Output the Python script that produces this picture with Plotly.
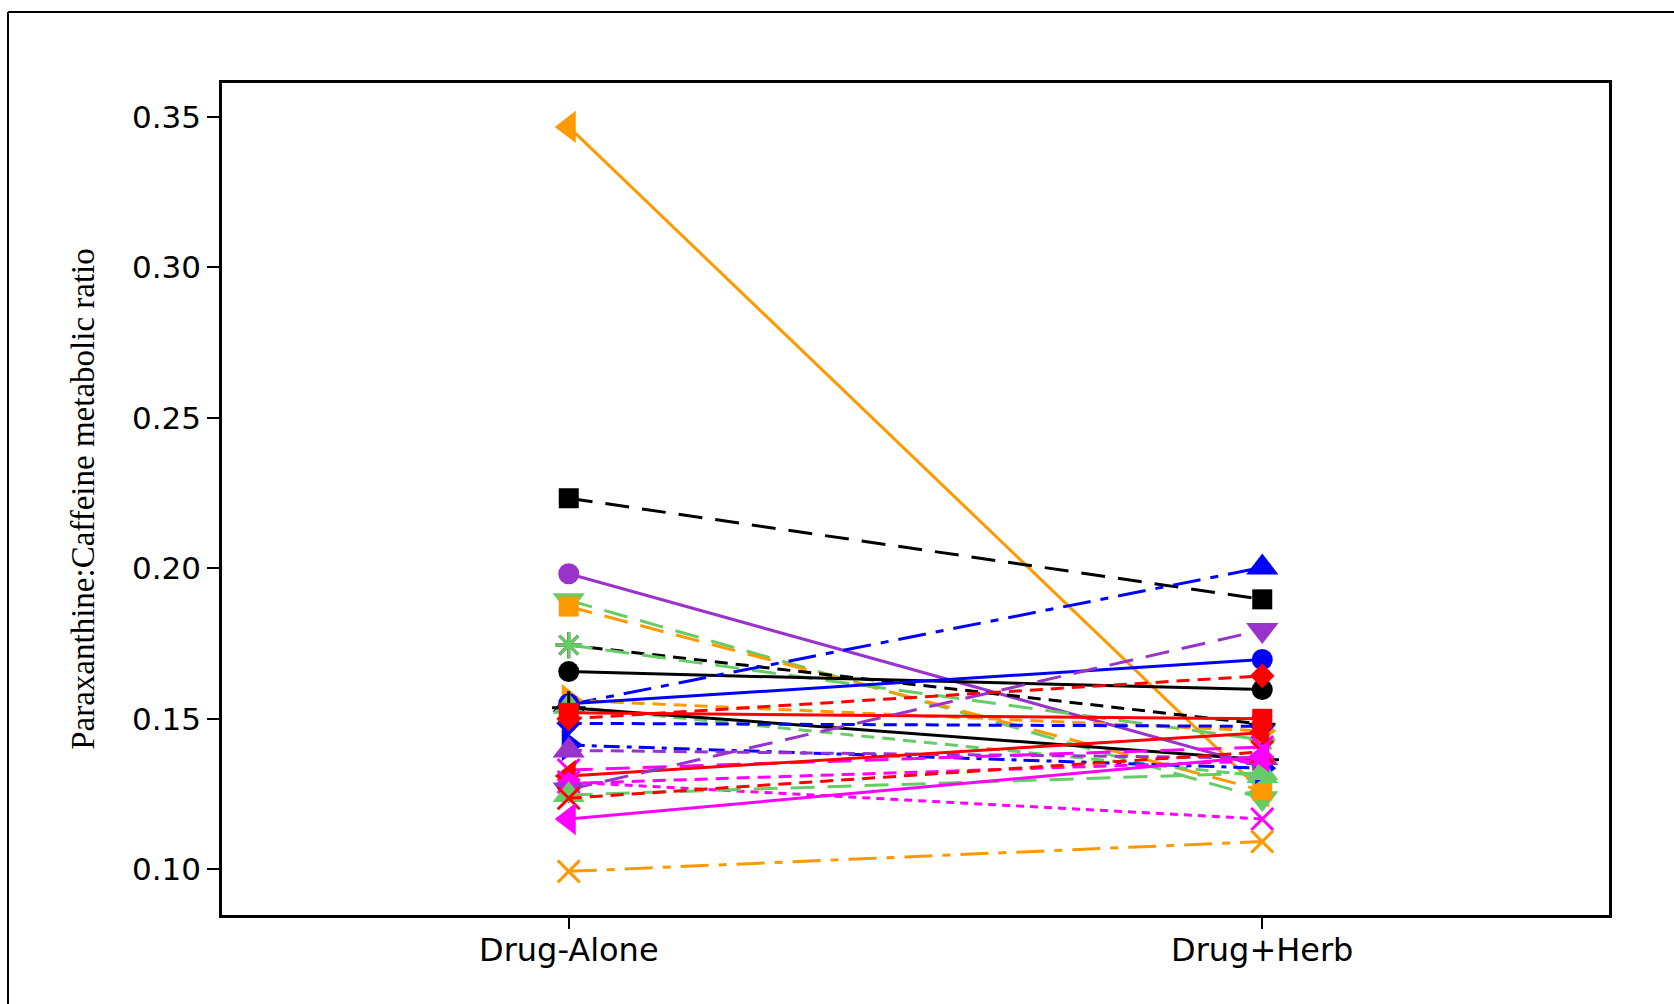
import plotly.graph_objects as go

categories = ["Drug-Alone", "Drug+Herb"]

series_colors = [
    "#FF9900", "#000000", "#9933CC", "#66CC66", "#FF9900", "#000000",
    "#66CC66", "#000000", "#0000FF", "#FF9900", "#0000FF", "#66CC66",
    "#000000", "#0000FF", "#FF0000", "#FF0000", "#0000FF", "#9933CC",
    "#FF00FF", "#FF0000", "#FF00FF", "#9933CC", "#FF00FF", "#66CC66",
    "#FF0000", "#FF00FF", "#FF9900",
]
series_dash = [
    "solid", "longdash", "solid", "longdash", "longdash", "dash",
    "longdash", "solid", "longdashdot", "dash", "solid", "dash",
    "solid", "dash", "solid", "dash", "dashdot", "dash",
    "longdash", "solid", "dash", "longdash", "dot", "longdash",
    "dash", "solid", "longdashdot",
]
series_symbols = [
    "triangle-left", "square", "circle", "triangle-down", "square", "asterisk-open",
    "asterisk-open", "circle", "triangle-up", "triangle-right", "circle", "triangle-up",
    "cross-thin-open", "diamond", "square", "diamond", "triangle-right", "triangle-up",
    "x-thin-open", "triangle-left", "diamond", "triangle-down", "x-thin-open", "triangle-up",
    "x-thin-open", "triangle-left", "x-thin-open",
]
drug_alone = [
    0.3467, 0.2233, 0.1982, 0.1894, 0.1873, 0.1745,
    0.1745, 0.1657, 0.1547, 0.1562, 0.1550, 0.1540,
    0.1537, 0.1485, 0.1520, 0.1500, 0.1413, 0.1395,
    0.1330, 0.1310, 0.1285, 0.1265, 0.1290, 0.1247,
    0.1236, 0.1167, 0.0993,
]
drug_herb = [
    0.1258, 0.1897, 0.1340, 0.1236, 0.1262, 0.1482,
    0.1430, 0.1597, 0.2003, 0.1460, 0.1697, 0.1310,
    0.1364, 0.1475, 0.1500, 0.1643, 0.1336, 0.1370,
    0.1406, 0.1454, 0.1360, 0.1795, 0.1167, 0.1320,
    0.1390, 0.1375, 0.1092,
]

dash_map = {
    "solid": "solid",
    "longdash": "24px,13px",
    "dash": "13px,8px",
    "dot": "8px,6px",
    "dashdot": "16px,7px,5px,7px",
    "longdashdot": "28px,10px,8px,10px",
}
size_map = {
    "circle": 21, "square": 20, "diamond": 19,
    "triangle-up": 28, "triangle-down": 28, "triangle-left": 28, "triangle-right": 28,
    "x-thin-open": 22, "asterisk-open": 22, "cross-thin-open": 24,
}

fig = go.Figure()
for i in range(len(drug_alone)):
    sym = series_symbols[i]
    is_open = sym.endswith("open")
    col = series_colors[i]
    fig.add_trace(go.Scatter(
        x=categories,
        y=[drug_alone[i], drug_herb[i]],
        mode="lines+markers",
        name=f"S{i+1}",
        line=dict(color=col, width=3, dash=dash_map[series_dash[i]]),
        marker=dict(symbol=sym, size=size_map[sym], color=col,
                    line=dict(color=col, width=3 if is_open else 0)),
        showlegend=False,
    ))

L, R, T, B = 222, 65, 83, 89
W, H = 1674, 1004
pw, ph = W - L - R, H - T - B

fig.update_layout(
    width=W, height=H,
    margin=dict(l=L, r=R, t=T, b=B),
    paper_bgcolor="white", plot_bgcolor="white",
    font=dict(family="DejaVu Sans", size=31, color="black"),
    xaxis=dict(
        range=[-0.5, 1.5], showgrid=False, zeroline=False,
        showline=True, linecolor="black", linewidth=2.5, mirror=True,
        ticks="outside", ticklen=11, tickwidth=2, tickcolor="black",
        showticklabels=False,
    ),
    yaxis=dict(
        range=[0.0848, 0.3613], showgrid=False, zeroline=False,
        showline=True, linecolor="black", linewidth=2.5, mirror=True,
        ticks="outside", ticklen=12, tickwidth=2, tickcolor="black",
        tickvals=[0.10, 0.15, 0.20, 0.25, 0.30, 0.35],
        ticktext=["0.10", "0.15", "0.20", "0.25", "0.30", "0.35"],
        tickfont=dict(family="DejaVu Sans", size=31),
        title=dict(text="Paraxanthine:Caffeine metabolic ratio",
                   font=dict(family="Liberation Serif", size=33), standoff=28),
    ),
)

# category labels (x tick labels)
label_y = (H - B - 950) / ph
for c in categories:
    fig.add_annotation(x=c, xref="x", y=label_y, yref="paper", text=c,
                       showarrow=False, xanchor="center", yanchor="middle",
                       font=dict(family="DejaVu Sans", size=32, color="black"))

fx = (8 - L) / pw
fy = (H - B - 12) / ph
fig.add_shape(type="line", xref="paper", yref="paper", x0=fx, x1=1.2, y0=fy, y1=fy,
              line=dict(color="black", width=2))
fig.add_shape(type="line", xref="paper", yref="paper", x0=fx, x1=fx, y0=fy, y1=-0.2,
              line=dict(color="black", width=2))

fig.write_html("out.html")
